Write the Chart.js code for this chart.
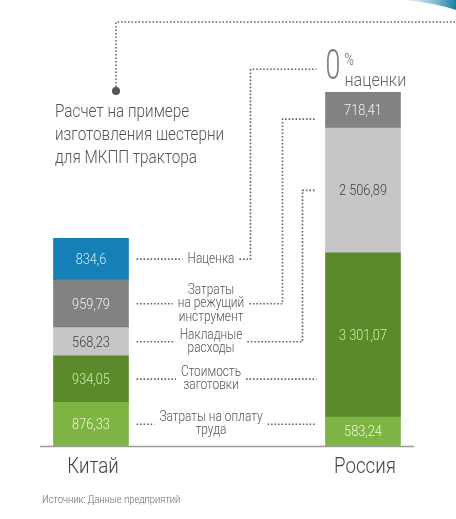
<!DOCTYPE html>
<html lang="ru">
<head>
<meta charset="utf-8">
<title>Расчет на примере изготовления шестерни</title>
<script src="https://cdn.jsdelivr.net/npm/chart.js@4.4.1/dist/chart.umd.min.js"></script>
<style>
  html, body { margin: 0; padding: 0; background: #fff; }
  #wrap { position: relative; width: 456px; height: 519px; }
</style>
</head>
<body>
<div id="wrap"><canvas id="myChart"></canvas></div>
<script>
// data, bottom of the stack first
const countries = ["Китай", "Россия"];
const laborCost = [876.33, 583.24];
const blankCost = [934.05, 3301.07];
const overheadCost = [568.23, 2506.89];
const toolCost = [959.79, 718.41];
const markup = [834.6, 0];

const seriesNames = [
  ["Затраты на оплату", "труда"],
  ["Стоимость", "заготовки"],
  ["Накладные", "расходы"],
  ["Затраты", "на режущий", "инструмент"],
  ["Наценка"],
];
const titleLines = ["Расчет на примере", "изготовления шестерни", "для МКПП трактора"];
const markupNote = ["0", "%", "наценки"];
const sourceNote = "Источник: Данные предприятий";

const FONT = "Roboto, 'Noto Sans', sans-serif";
const SQUEEZE = 0.85;
const fills = ["#7db443", "#5b8a2b", "#c6c6c6", "#828282", "#1580b5"];
const valueColors = ["#eef8d2", "#d6eeac", "#3f3f3f", "#f2f2f2", "#c6e9ff"];

const fmt = (v) => {
  const parts = String(v).split(".");
  parts[0] = parts[0].replace(/\B(?=(\d{3})+(?!\d))/g, " ");
  return parts.join(",");
};

// condensed light text, returns drawn width
const say = (ctx, text, x, y, size, color, align = "center", base = "alphabetic", sq = SQUEEZE) => {
  ctx.save();
  ctx.font = `300 ${size}px ${FONT}`;
  ctx.fillStyle = color;
  ctx.textAlign = align;
  ctx.textBaseline = base;
  ctx.translate(x, y);
  ctx.scale(sq, 1);
  ctx.fillText(text, 0, 0);
  const w = ctx.measureText(text).width * sq;
  ctx.restore();
  return w;
};

const widthOf = (ctx, text, size) => {
  ctx.save();
  ctx.font = `300 ${size}px ${FONT}`;
  const w = ctx.measureText(text).width * SQUEEZE;
  ctx.restore();
  return w;
};

const dotted = (ctx, pts) => {
  ctx.save();
  ctx.strokeStyle = "#666";
  ctx.lineWidth = 1.6;
  ctx.setLineDash([1.6, 1.9]);
  ctx.beginPath();
  ctx.moveTo(pts[0][0], pts[0][1]);
  for (let i = 1; i < pts.length; i++) ctx.lineTo(pts[i][0], pts[i][1]);
  ctx.stroke();
  ctx.restore();
};

const decorations = {
  id: "decorations",
  afterDatasetsDraw(chart) {
    const ctx = chart.ctx;
    const area = chart.chartArea;
    const xs = chart.scales.x;
    ctx.save();

    // baseline
    ctx.strokeStyle = "#9a9a9a";
    ctx.lineWidth = 1.5;
    ctx.beginPath();
    ctx.moveTo(area.left - 51, area.bottom + 0.5);
    ctx.lineTo(area.right + 51, area.bottom + 0.5);
    ctx.stroke();

    // category labels
    countries.forEach((c, j) => {
      say(ctx, c, xs.getPixelForTick(j) + 2, area.bottom + 27, 22, "#444");
    });

    // values inside segments
    chart.data.datasets.forEach((ds, i) => {
      chart.getDatasetMeta(i).data.forEach((el, j) => {
        if (!ds.data[j]) return;
        say(ctx, fmt(ds.data[j]), el.x, (el.y + el.base) / 2 + 1, 15, valueColors[i], "center", "middle");
      });
    });

    // middle labels with leaders
    const first = chart.getDatasetMeta(0).data;
    const chinaRight = first[0].x + first[0].width / 2;
    const russiaLeft = first[1].x - first[1].width / 2;
    const top = chart.getDatasetMeta(chart.data.datasets.length - 1).data[1];
    const russiaTop = top.y;
    const cx = (chinaRight + russiaLeft) / 2 - 16;
    const elbows = [null, null, 23, 43, 75];

    seriesNames.forEach((lines, i) => {
      const meta = chart.getDatasetMeta(i).data;
      const cy = (meta[0].y + meta[0].base) / 2;
      const lh = 13.5;
      const w = Math.max(...lines.map((l) => widthOf(ctx, l, 14)));
      lines.forEach((l, k) => {
        say(ctx, l, cx, cy + (k - (lines.length - 1) / 2) * lh, 14, "#555", "center", "middle");
      });
      dotted(ctx, [[chinaRight + 8, cy], [cx - w / 2 - 5, cy]]);
      const startX = cx + w / 2 + 5;
      const endX = russiaLeft - 9;
      if (elbows[i] === null) {
        dotted(ctx, [[startX, cy], [endX, cy]]);
      } else {
        let ty;
        if (i === 4) ty = russiaTop - 23;
        else if (i === 3) ty = meta[1].y + (meta[1].base - meta[1].y) * 0.75;
        else ty = (meta[1].y + meta[1].base) / 2;
        const ex = russiaLeft - elbows[i];
        dotted(ctx, [[startX, cy], [ex, cy], [ex, ty], [endX, ty]]);
      }
    });

    // 0% markup note above Russia
    say(ctx, markupNote[0], russiaLeft, russiaTop - 13, 42, "#7a7a7a", "left", "alphabetic", 0.64);
    say(ctx, markupNote[1], russiaLeft + 19, russiaTop - 27, 17, "#666", "left", "alphabetic", 0.75);
    say(ctx, markupNote[2], russiaLeft + 19, russiaTop - 6, 19, "#666", "left");

    // title block
    titleLines.forEach((l, k) => say(ctx, l, 55, 117 + k * 23, 18, "#555", "left"));
    dotted(ctx, [[116, 87], [116, 22], [chart.width, 22]]);
    ctx.fillStyle = "#555";
    ctx.beginPath();
    ctx.arc(116, 91, 4, 0, Math.PI * 2);
    ctx.fill();

    // blue swoosh corner
    const g = ctx.createLinearGradient(410, 0, chart.width, 0);
    g.addColorStop(0, "rgba(190, 225, 240, 0.6)");
    g.addColorStop(1, "#167fa6");
    ctx.fillStyle = g;
    ctx.beginPath();
    ctx.moveTo(405, 0);
    ctx.quadraticCurveTo(435, 3, chart.width, 10);
    ctx.lineTo(chart.width, 0);
    ctx.closePath();
    ctx.fill();

    // source
    say(ctx, sourceNote, 42, 503, 11, "#666", "left");

    ctx.restore();
  },
};

const datasetsData = [laborCost, blankCost, overheadCost, toolCost, markup];

const myChart = new Chart(document.getElementById("myChart"), {
  type: "bar",
  data: {
    labels: countries,
    datasets: datasetsData.map((d, i) => ({
      label: seriesNames[i].join(" "),
      data: d,
      backgroundColor: fills[i],
      borderWidth: 0,
      barThickness: 75,
      clip: false,
    })),
  },
  options: {
    responsive: true,
    maintainAspectRatio: false,
    animation: false,
    layout: {
      padding: { top: 48, left: 91, right: 93, bottom: 73 },
    },
    plugins: {
      legend: { display: false },
      tooltip: { enabled: false },
    },
    scales: {
      x: {
        stacked: true,
        offset: false,
        display: false,
      },
      y: {
        stacked: true,
        display: false,
        min: 0,
        max: 8000,
      },
    },
  },
  plugins: [decorations],
});
</script>
</body>
</html>
